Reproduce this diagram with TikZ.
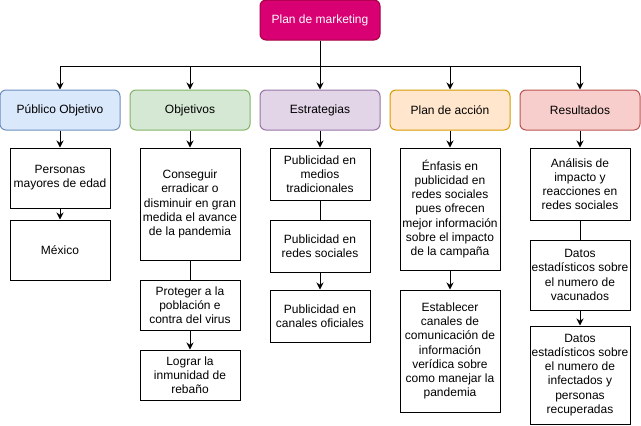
\documentclass[tikz,border=0pt]{standalone}
\usepackage{fontspec}
\setmainfont{Liberation Sans}
\usetikzlibrary{arrows.meta}

\definecolor{mktfill}{HTML}{D80073}
\definecolor{mktline}{HTML}{A50040}
\definecolor{pubfill}{HTML}{DAE8FC}
\definecolor{publine}{HTML}{6C8EBF}
\definecolor{objfill}{HTML}{D5E8D4}
\definecolor{objline}{HTML}{82B366}
\definecolor{estfill}{HTML}{E1D5E7}
\definecolor{estline}{HTML}{9673A6}
\definecolor{accfill}{HTML}{FFE6CC}
\definecolor{accline}{HTML}{D79B00}
\definecolor{resfill}{HTML}{F8CECC}
\definecolor{resline}{HTML}{B85450}

\tikzset{
  txt/.style={font=\fontsize{12}{14.2}\selectfont, align=center, inner sep=1pt},
  cat/.style={txt, line width=1pt, rounded corners=6pt,
    minimum width=120pt, minimum height=40pt},
  item/.style={txt, draw, line width=1pt, minimum width=100pt},
  link/.style={line width=1pt},
  arr/.style={link, -{Stealth[length=7pt, width=7pt]}}
}

\begin{document}
\begin{tikzpicture}[x=1pt, y=-1pt]
    \useasboundingbox (0, 0) rectangle (641, 426);
    % top
    \node[cat, fill=mktfill, draw=mktline, text=white] (mkt) at (320, 20)
      {Plan de marketing};
    \coordinate (split) at (320, 66);
    % categories
    \node[cat, fill=pubfill, draw=publine] (pub) at (60, 110) {Público Objetivo};
    \node[cat, fill=objfill, draw=objline] (obj) at (190, 110) {Objetivos};
    \node[cat, fill=estfill, draw=estline] (est) at (320, 110) {Estrategias};
    \node[cat, fill=accfill, draw=accline] (acc) at (450, 110) {Plan de acción};
    \node[cat, fill=resfill, draw=resline] (res) at (580, 110) {Resultados};
    % items
    \node[item, minimum height=60pt] (pers) at (60, 178)
      {Personas\\mayores de edad};
    \node[item, minimum height=60pt] (mex) at (60, 250) {México};
    \node[item, minimum height=112pt] (cons) at (190, 204)
      {Conseguir\\erradicar o\\disminuir en gran\\medida el avance\\de la pandemia};
    \node[item, minimum height=50pt] (prot) at (190, 305)
      {Proteger a la\\población e\\contra del virus};
    \node[item, minimum height=50pt] (inmu) at (190, 375)
      {Lograr la\\inmunidad de\\rebaño};
    \node[item, minimum height=52pt] (med) at (320, 174)
      {Publicidad en\\medios\\tradicionales};
    \node[item, minimum height=52pt] (red) at (320, 246)
      {Publicidad en\\redes sociales};
    \node[item, minimum height=52pt] (ofi) at (320, 316)
      {Publicidad en\\canales oficiales};
    \node[item, minimum height=122pt] (enf) at (450, 209)
      {Énfasis en\\publicidad en\\redes sociales\\pues ofrecen\\mejor información\\sobre el impacto\\de la campaña};
    \node[item, minimum height=122pt] (cnl) at (450, 351)
      {Establecer\\canales de\\comunicación de\\información\\verídica sobre\\como manejar la\\pandemia};
    \node[item, minimum height=72pt] (ana) at (580, 184)
      {Análisis de\\impacto y\\reacciones en\\redes sociales};
    \node[item, minimum height=70pt] (vac) at (580, 275)
      {Datos\\estadísticos sobre\\el numero de\\vacunados};
    \node[item, minimum height=98pt] (inf) at (580, 375)
      {Datos\\estadísticos sobre\\el numero de\\infectados y\\personas\\recuperadas};
    % connectors
    \draw[link] (mkt) -- (split);
    \draw[arr] (split) -| (pub);
    \draw[arr] (split) -| (obj);
    \draw[arr] (split) -- (est);
    \draw[arr] (split) -| (acc);
    \draw[arr] (split) -| (res);
    \draw[arr] (pub) -- (pers);
    \draw[arr] (pers) -- (mex);
    \draw[arr] (obj) -- (cons);
    \draw[link] (cons) -- (prot);
    \draw[arr] (prot) -- (inmu);
    \draw[arr] (est) -- (med);
    \draw[link] (med) -- (red);
    \draw[arr] (red) -- (ofi);
    \draw[arr] (acc) -- (enf);
    \draw[arr] (enf) -- (cnl);
    \draw[arr] (res) -- (ana);
    \draw[link] (ana) -- (vac);
    \draw[arr] (vac) -- (inf);
\end{tikzpicture}
\end{document}
